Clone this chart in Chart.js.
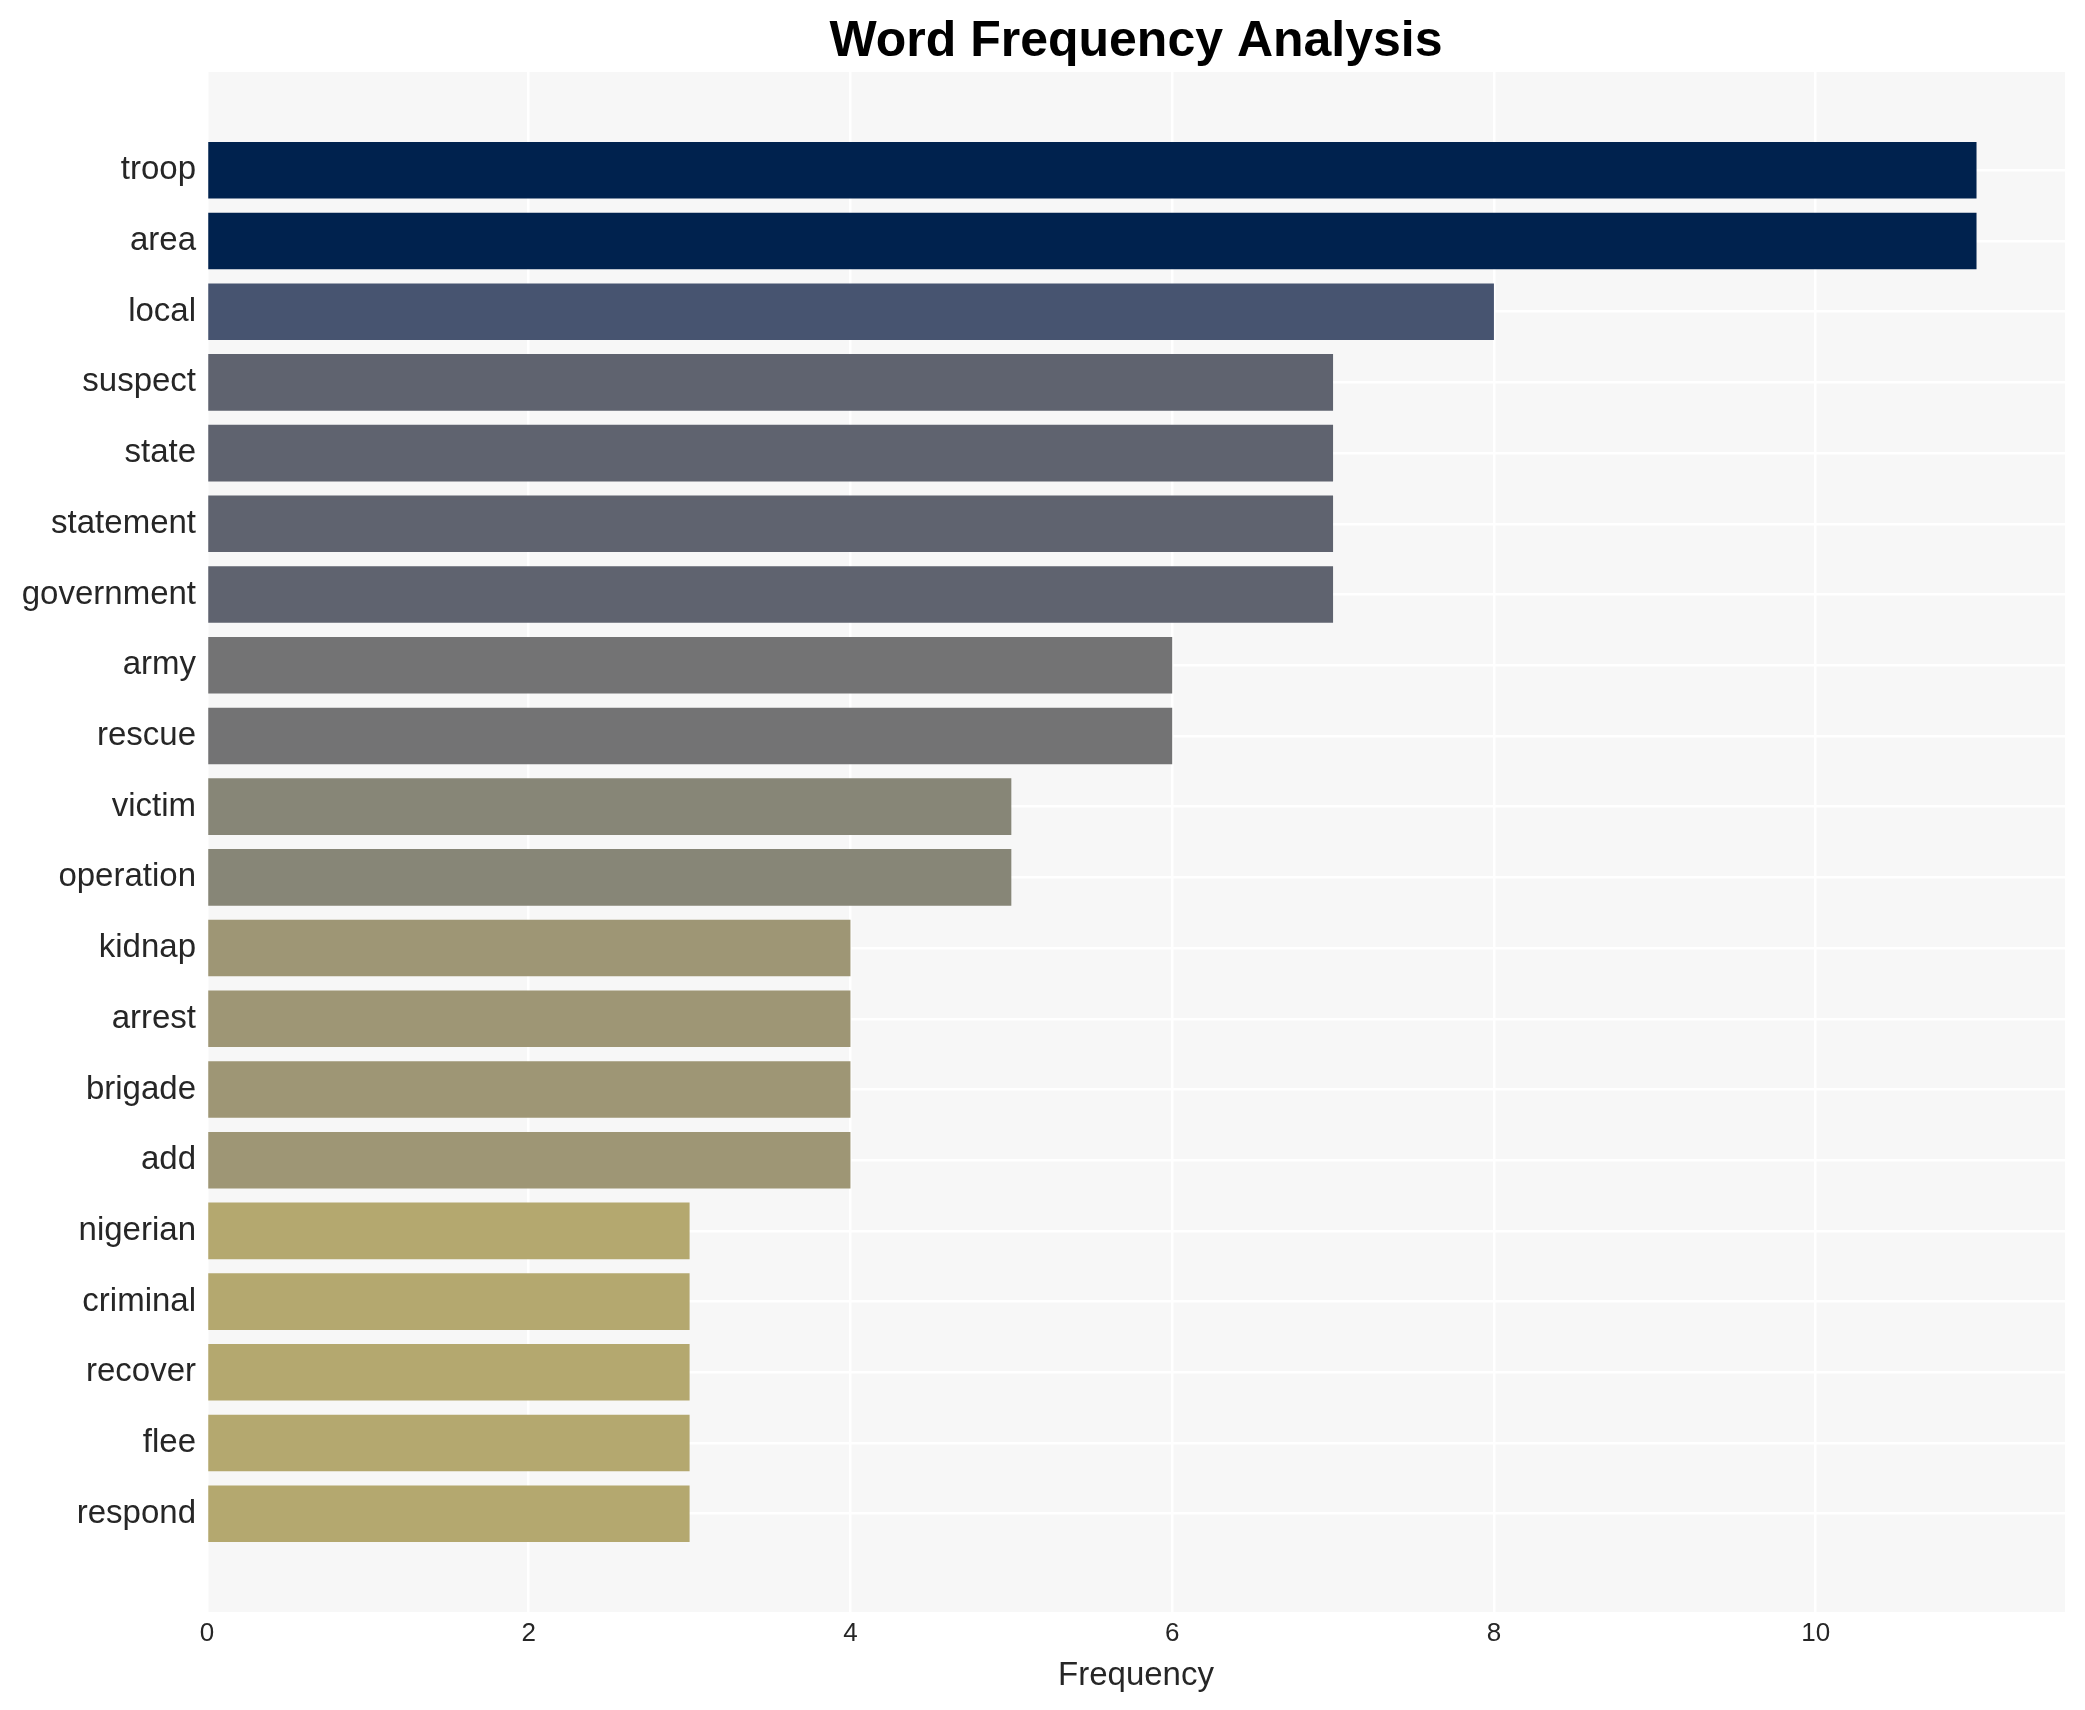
<!DOCTYPE html>
<html>
<head>
<meta charset="utf-8">
<title>Word Frequency Analysis</title>
<script src="https://cdn.jsdelivr.net/npm/chart.js@4.4.1/dist/chart.umd.min.js"></script>
<style>
  html, body { margin: 0; padding: 0; background: #fff; }
  #wrap { width: 2085px; height: 1710px; }
</style>
</head>
<body>
<div id="wrap"><canvas id="chart" width="2085" height="1710"></canvas></div>
<script>
const words = ["troop", "area", "local", "suspect", "state", "statement", "government",
    "army", "rescue", "victim", "operation", "kidnap", "arrest", "brigade", "add",
    "nigerian", "criminal", "recover", "flee", "respond"];
const counts = [11, 11, 8, 7, 7, 7, 7, 6, 6, 5, 5, 4, 4, 4, 4, 3, 3, 3, 3, 3];
const xTicks = [0, 2, 4, 6, 8, 10];

// colour per frequency level (cividis-like)
const levelColors = {
    11: "#00224e", 8: "#475470", 7: "#5f636f", 6: "#737374",
    5: "#878677", 4: "#9e9675", 3: "#b4a86f",
};

const plotBg = {
    id: "plotBg",
    beforeDraw(chart) {
        const { ctx, chartArea: a } = chart;
        ctx.save();
        ctx.fillStyle = "#f7f7f7";
        ctx.fillRect(a.left, a.top, a.right - a.left, a.bottom - a.top);
        ctx.restore();
    },
};

new Chart(document.getElementById("chart"), {
    type: "bar",
    data: {
        datasets: [{
            data: counts.map((v, i) => ({ x: v, y: i })),
            backgroundColor: counts.map(v => levelColors[v]),
            borderWidth: 0,
            barPercentage: 0.8,
            categoryPercentage: 1.0,
        }],
    },
    options: {
        indexAxis: "y",
        responsive: false,
        animation: false,
        devicePixelRatio: 1,
        layout: { padding: { left: 0, right: 20, top: 0, bottom: 0 } },
        scales: {
            x: {
                type: "linear",
                bounds: "data",
                min: 0,
                max: 11.55,
                afterDataLimits: s => { s.min = 0; s.max = 11.55; },
                afterBuildTicks: s => { s.ticks = xTicks.map(v => ({ value: v })); },
                afterFit: s => { s.height = 98; },
                grid: { color: "#ffffff", lineWidth: 2.5, drawTicks: false },
                border: { display: false },
                ticks: {
                    padding: 6,
                    color: "#262626",
                    font: { family: "Liberation Sans, Arial, sans-serif", size: 26 },
                },
                title: {
                    display: true,
                    text: "Frequency",
                    color: "#262626",
                    padding: { top: 4, bottom: 14 },
                    font: { family: "Liberation Sans, Arial, sans-serif", size: 33 },
                },
            },
            y: {
                type: "linear",
                bounds: "data",
                offset: false,
                reverse: true,
                min: -1.39,
                max: 20.39,
                afterDataLimits: s => { s.min = -1.39; s.max = 20.39; },
                afterBuildTicks: s => { s.ticks = words.map((_, i) => ({ value: i })); },
                afterFit: s => { s.width = 207; },
                grid: { color: "#ffffff", lineWidth: 2.5, drawTicks: false, offset: false },
                border: { display: false },
                ticks: {
                    padding: 11,
                    autoSkip: false,
                    color: "#262626",
                    font: { family: "Liberation Sans, Arial, sans-serif", size: 33 },
                    callback: v => words[v] ?? "",
                },
            },
        },
        plugins: {
            legend: { display: false },
            tooltip: { enabled: false },
            title: {
                display: true,
                fullSize: false,
                text: "Word Frequency Analysis",
                color: "#000000",
                padding: { top: 12, bottom: 0 },
                font: { family: "Liberation Sans, Arial, sans-serif", size: 50, weight: "bold", lineHeight: 1.2 },
            },
        },
    },
    plugins: [plotBg],
});
</script>
</body>
</html>
